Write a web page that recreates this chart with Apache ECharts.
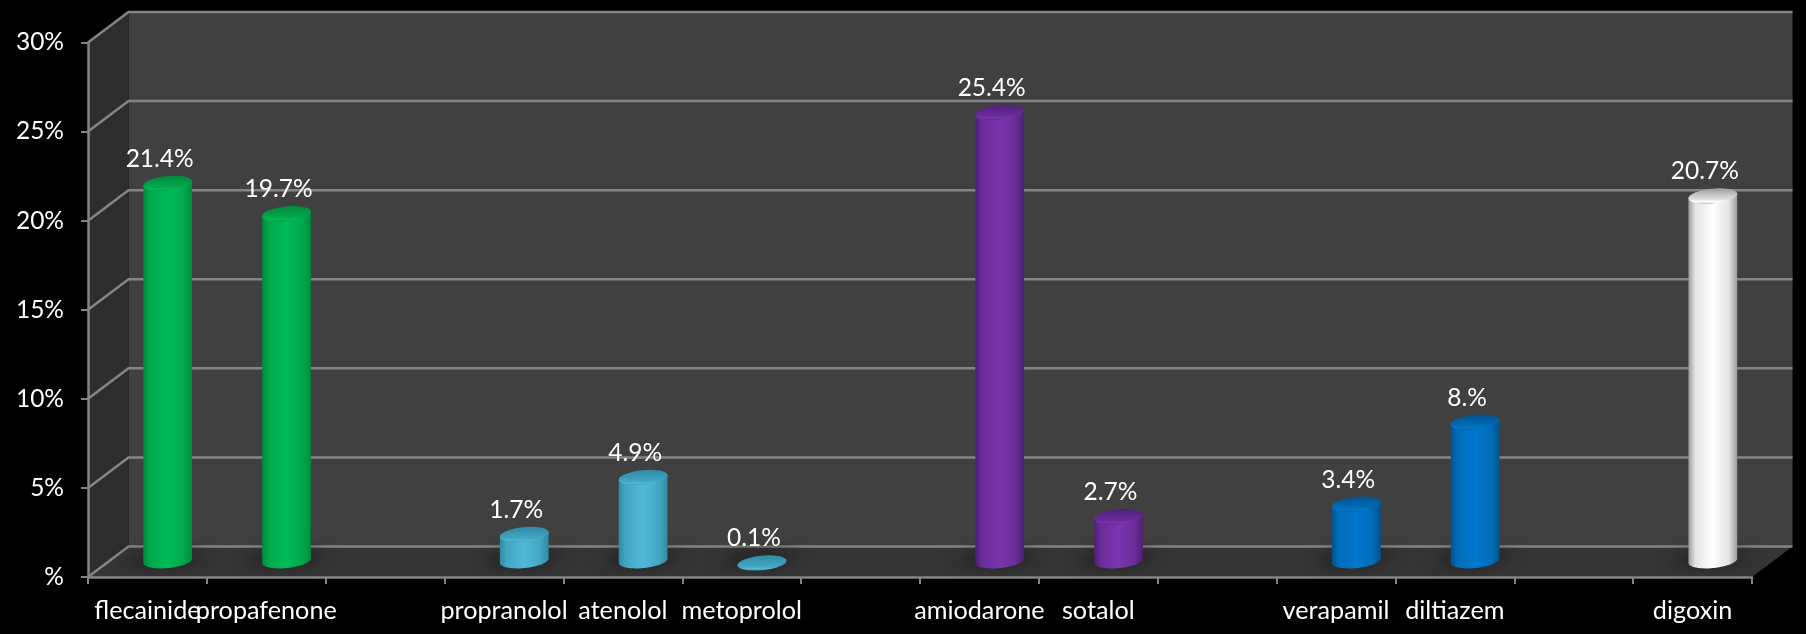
<!DOCTYPE html>
<html>
<head>
<meta charset="utf-8">
<style>html,body{margin:0;padding:0;background:#000}#chart{width:1806px;height:634px}</style>
<script src="https://cdn.jsdelivr.net/npm/echarts@6/dist/echarts.min.js"></script>
</head>
<body>
<div id="chart"></div>
<script>
// Antiarrhythmic drug use, grouped by class; blank categories separate the groups.
const categories = ['flecainide','propafenone','','propranolol','atenolol','metoprolol','','amiodarone','sotalol','','verapamil','diltiazem','','digoxin'];
const shares = [21.4,19.7,null,1.7,4.9,0.1,null,25.4,2.7,null,3.4,8,null,20.7];
const groupOfDrug = [0,0,null,1,1,1,null,2,2,null,3,3,null,4];
const yTicks = [0,5,10,15,20,25,30];

// edge, mid, bright tones of each drug class
const palettes = [
  ['#008a3c','#00a94c','#00bb57'],
  ['#2f8aa5','#43a6c3','#50b9d8'],
  ['#4f2076','#6a2c9a','#7a36ae'],
  ['#00548f','#006cb8','#0078cc'],
  ['#9c9c9c','#e4e4e4','#ffffff']
];

// Oblique offset of the back wall relative to the front plane of the axes
const DEPTH_X = 40.5, DEPTH_Y = -30.5;
const BAR_RX = 24.5, BAR_RY = 7.3, BAR_TILT = -0.1;
const CAP_DROP = 3;
const FLOOR_LIFT = 1;
// The floor shadow's source shape sits off-canvas so only its blur lands on the floor
const SHADOW_SHIFT = 4000;
const LINE_COLOR = '#858585';
const LINE_WIDTH = 2.5;
const FONT = 'Lato, "Noto Sans", sans-serif';
const FONT_SIZE = 24.5;
const CATEGORY_FONT_SIZE = 25.2;

// Calibri-style "#.#%" number format: 8 -> "8.%", 0 on the axis -> "%"
const pctLabel = v => (Number.isInteger(v) ? v + '.%' : v + '%');
const axisPct = v => (v === 0 ? '%' : v + '%');

function ellipsePoint(cx, cy, t) {
  const x = BAR_RX * Math.cos(t), y = BAR_RY * Math.sin(t);
  const c = Math.cos(BAR_TILT), s = Math.sin(BAR_TILT);
  return [cx + x * c - y * s, cy + x * s + y * c];
}
function ellipsePoly(cx, cy, from, to, n) {
  const out = [];
  for (let i = 0; i <= n; i++) out.push(ellipsePoint(cx, cy, from + (to - from) * i / n));
  return out;
}

function renderFrame(params, api) {
  const n = categories.length;
  const x0 = api.coord([0, 0])[0] - api.size([1, 0])[0] / 2;
  const x1 = api.coord([n - 1, 0])[0] + api.size([1, 0])[0] / 2;
  const yAt = v => api.coord([0, v])[1];
  const y0 = yAt(0), yT = yAt(30);
  const children = [
    { type: 'polygon', shape: { points: [[x0 + DEPTH_X, yT + DEPTH_Y], [x1 + DEPTH_X, yT + DEPTH_Y], [x1 + DEPTH_X, y0 + DEPTH_Y], [x0 + DEPTH_X, y0 + DEPTH_Y]] }, style: { fill: '#404040' } },
    { type: 'polygon', shape: { points: [[x0, yT], [x0 + DEPTH_X, yT + DEPTH_Y], [x0 + DEPTH_X, y0 + DEPTH_Y], [x0, y0]] }, style: { fill: '#2d2d2d' } },
    { type: 'polygon', shape: { points: [[x0, y0], [x0 + DEPTH_X, y0 + DEPTH_Y], [x1 + DEPTH_X, y0 + DEPTH_Y], [x1, y0]] }, style: { fill: '#353535' } }
  ];
  yTicks.forEach(v => {
    const y = yAt(v);
    children.push({ type: 'polyline', shape: { points: [[x0, y], [x0 + DEPTH_X, y + DEPTH_Y], [x1 + DEPTH_X, y + DEPTH_Y]] }, style: { fill: null, stroke: LINE_COLOR, lineWidth: LINE_WIDTH } });
  });
  return { type: 'group', children };
}

function renderBar(params, api) {
  const v = api.value(1);
  if (v == null || isNaN(v)) return;
  const i = api.value(0);
  const p = palettes[groupOfDrug[i]];
  const base = api.coord([i, 0]), top = api.coord([i, v]);
  const cx = base[0] + DEPTH_X / 2, by = base[1] + DEPTH_Y / 2 - FLOOR_LIFT;
  const ty = top[1] + DEPTH_Y / 2 + CAP_DROP;
  const bodyFill = new echarts.graphic.LinearGradient(0, 0, 1, 0, [
    { offset: 0, color: p[0] }, { offset: 0.14, color: p[1] }, { offset: 0.5, color: p[2] },
    { offset: 0.82, color: p[1] }, { offset: 1, color: p[0] }
  ]);
  const capFill = new echarts.graphic.LinearGradient(0, 0, 0, 1, [
    { offset: 0, color: p[0] }, { offset: 0.76, color: p[1] }, { offset: 0.86, color: p[2] }, { offset: 0.96, color: p[1] }, { offset: 1, color: p[0] }
  ]);
  const bodyPts = [ellipsePoint(cx, ty, Math.PI)]
    .concat(ellipsePoly(cx, by, Math.PI, 0, 28))
    .concat([ellipsePoint(cx, ty, 0)]);
  const sx = cx - SHADOW_SHIFT;
  return {
    type: 'group',
    children: [
      { type: 'polygon', z2: 1, shape: { points: [[sx - 46, by + 4], [sx + 14, by + 4], [sx + 42, by - 8], [sx - 20, by - 8]] },
        style: { fill: '#1c1c1c', shadowBlur: 16, shadowColor: 'rgba(26,26,26,0.85)', shadowOffsetX: SHADOW_SHIFT } },
      { type: 'polygon', z2: 2, shape: { points: bodyPts }, style: { fill: bodyFill } },
      { type: 'polygon', z2: 3, shape: { points: ellipsePoly(cx, ty, 0, Math.PI * 2, 48) }, style: { fill: capFill } },
      { type: 'text', z2: 4, style: { text: pctLabel(v), x: cx - 8, y: ty - 24.5, align: 'center', verticalAlign: 'middle', fill: '#ffffff', font: FONT_SIZE + 'px ' + FONT } }
    ]
  };
}

const chart = echarts.init(document.getElementById('chart'));
chart.setOption({
  backgroundColor: '#000000',
  animation: false,
  grid: { left: 88, right: 54, top: 42.5, bottom: 57 },
  xAxis: {
    type: 'category', data: categories, z: 6,
    axisLine: { lineStyle: { color: LINE_COLOR, width: LINE_WIDTH } },
    axisTick: { show: true, length: 7, lineStyle: { color: LINE_COLOR, width: 2 } },
    axisLabel: { interval: 0, color: '#ffffff', fontFamily: FONT, fontSize: CATEGORY_FONT_SIZE, margin: 21, hideOverlap: false },
    splitLine: { show: false }
  },
  yAxis: {
    type: 'value', min: 0, max: 30, interval: 5, z: 6,
    axisLine: { show: true, lineStyle: { color: LINE_COLOR, width: LINE_WIDTH } },
    axisTick: { show: true, length: 7, lineStyle: { color: LINE_COLOR, width: 2 } },
    axisLabel: { color: '#ffffff', fontFamily: FONT, fontSize: FONT_SIZE, margin: 24, padding: [7, 0, 0, 0], formatter: axisPct },
    splitLine: { show: false }
  },
  series: [
    { type: 'custom', z: 1, silent: true, clip: false, data: [[0, 0]], renderItem: renderFrame },
    { type: 'custom', z: 3, silent: true, clip: false, data: categories.map((c, i) => [i, shares[i]]), encode: { x: 0, y: 1 }, renderItem: renderBar }
  ]
});
</script>
</body>
</html>
